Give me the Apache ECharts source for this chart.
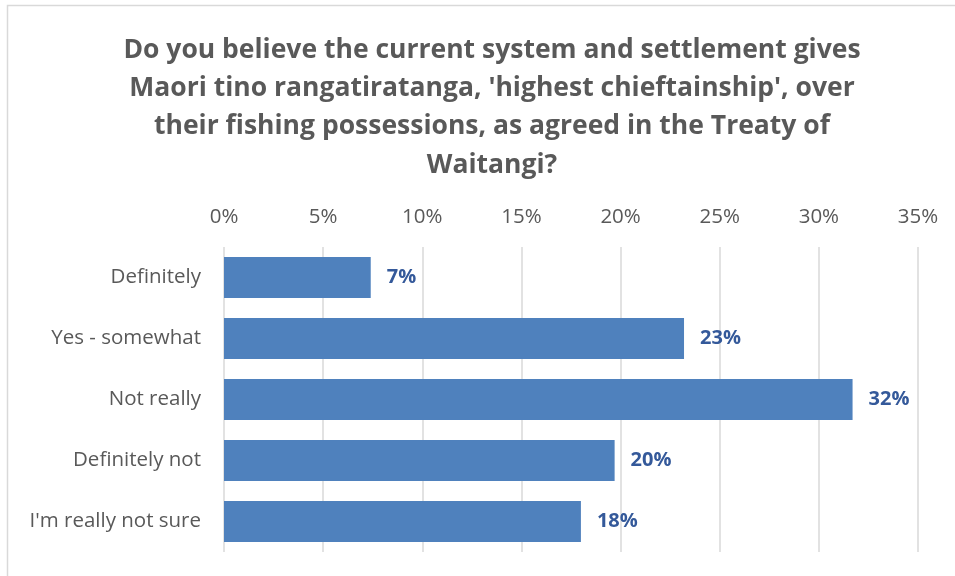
<!DOCTYPE html>
<html>
<head>
<meta charset="utf-8">
<script src="https://cdn.jsdelivr.net/npm/echarts@6/dist/echarts.min.js"></script>
<style>
  html, body { margin: 0; padding: 0; background: #ffffff; }
  #chart { width: 955px; height: 576px; }
</style>
</head>
<body>
<div id="chart"></div>
<script>
// Survey responses (share of respondents, %)
const categories = [
  'Definitely',
  'Yes - somewhat',
  'Not really',
  'Definitely not',
  "I'm really not sure"
];
const shares = [7.4, 23.2, 31.7, 19.7, 18.0];

const titleText = "Do you believe the current system and settlement gives\n" +
  "Maori tino rangatiratanga, 'highest chieftainship', over\n" +
  "their fishing possessions, as agreed in the Treaty of\n" +
  "Waitangi?";

const FONT = '"Open Sans", Lato, sans-serif';

const chart = echarts.init(document.getElementById('chart'), null, { renderer: 'canvas' });

chart.setOption({
  backgroundColor: '#ffffff',
  animation: false,
  graphic: [{
    type: 'rect',
    shape: { x: 7.5, y: 5.5, width: 1000, height: 600 },
    style: { fill: 'none', stroke: '#D9D9D9', lineWidth: 1.5 },
    silent: true
  }],
  title: {
    text: titleText,
    left: 487,
    top: 26,
    textAlign: 'center',
    textStyle: {
      fontFamily: FONT,
      fontSize: 26.5,
      fontWeight: 'bold',
      color: '#595959',
      lineHeight: 38.3
    }
  },
  grid: {
    left: 224,
    right: 37,
    top: 247,
    bottom: 24,
    containLabel: false
  },
  xAxis: {
    type: 'value',
    position: 'top',
    min: 0,
    max: 35,
    interval: 5,
    axisLine: { show: false },
    axisTick: { show: false },
    axisLabel: {
      formatter: '{value}%',
      fontFamily: FONT,
      fontSize: 20.5,
      color: '#595959',
      margin: 19
    },
    splitLine: { show: true, lineStyle: { color: '#D9D9D9', width: 1.5 } }
  },
  yAxis: {
    type: 'category',
    data: categories,
    inverse: true,
    axisLine: { show: false },
    axisTick: { show: false },
    axisLabel: {
      fontFamily: FONT,
      fontSize: 20.5,
      color: '#595959',
      margin: 23
    }
  },
  series: [{
    type: 'bar',
    data: shares,
    barCategoryGap: '33%',
    itemStyle: { color: '#4F81BD' },
    label: {
      show: true,
      position: 'right',
      distance: 16,
      formatter: p => Math.round(p.value) + '%',
      fontFamily: FONT,
      fontSize: 20,
      fontWeight: 'bold',
      color: '#34599A'
    }
  }]
});
</script>
</body>
</html>
